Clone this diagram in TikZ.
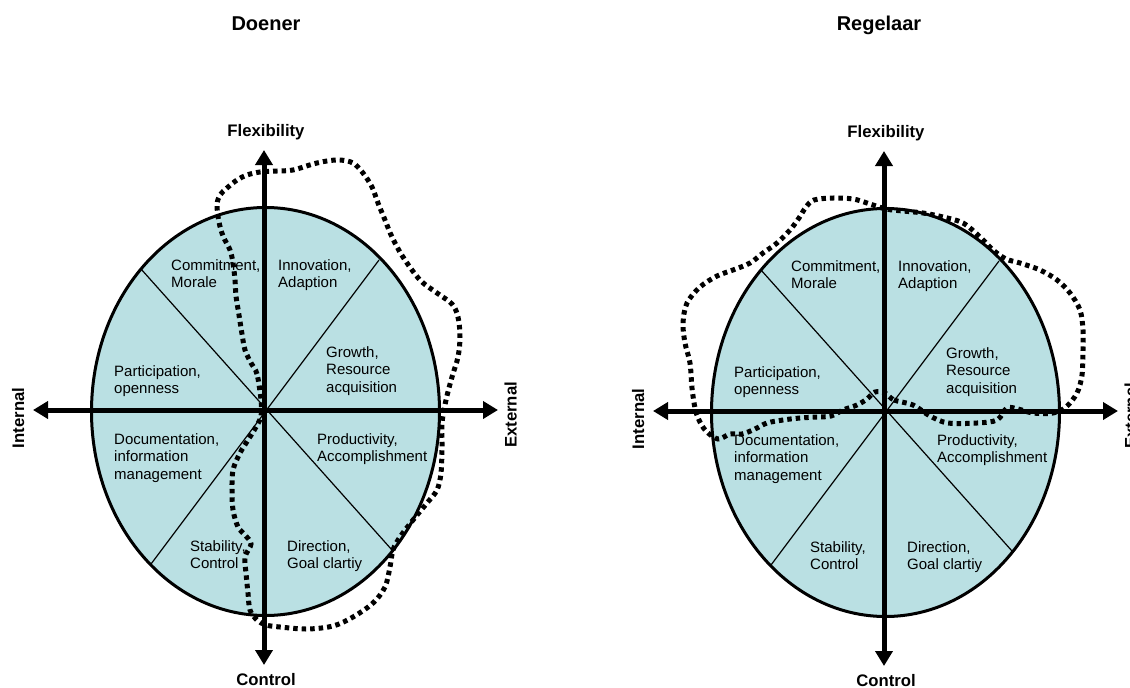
\documentclass[tikz,border=0pt]{standalone}
\usepackage{fontspec}
\setmainfont{Liberation Sans}
\usetikzlibrary{arrows.meta}
\definecolor{quadfill}{RGB}{186,224,227}
\tikzset{
  axisline/.style={line width=5pt,
    {Triangle[length=15pt,width=17pt]}-{Triangle[length=15pt,width=17pt]}},
  rim/.style={line width=3pt, fill=quadfill},
  spoke/.style={line width=1.2pt},
  profile/.style={line width=5pt, dash pattern=on 4.5pt off 4pt},
  area/.style={font=\fontsize{15}{17.5}\selectfont, align=left,
    anchor=north west, inner sep=0pt},
  axislabel/.style={font=\bfseries\fontsize{16.7}{20}\selectfont,
    inner sep=0pt, anchor=base},
  heading/.style={font=\bfseries\fontsize{20}{24}\selectfont,
    inner sep=0pt, anchor=base},
}
% one competing-values frame: #1 name prefix, #2 centre of the axes
\newcommand\cvframe[2]{%
  \begin{scope}[shift={#2}]
    \coordinate (#1-o) at (0,0);
    \coordinate (#1-n) at (0,-260);
    \coordinate (#1-s) at (0,255);
    \coordinate (#1-w) at (-231,0);
    \coordinate (#1-e) at (234,0);
    \coordinate (#1-ul) at (-123,-141);
    \coordinate (#1-ur) at (115,-150);
    \coordinate (#1-ll) at (-113,154);
    \coordinate (#1-lr) at (128,140);
    \draw[rim] (1.5,1.5) ellipse [x radius=174pt, y radius=204pt];
    \draw[spoke] (#1-ul) -- (#1-lr);
    \draw[spoke] (#1-ur) -- (#1-ll);
    \node[area] (#1-cm) at (-93,-151) {Commitment,\\Morale};
    \node[area] (#1-ia) at (14,-151) {Innovation,\\Adaption};
    \node[area] (#1-gr) at (62,-64) {Growth,\\Resource\\acquisition};
    \node[area] (#1-po) at (-150,-45) {Participation,\\openness};
    \node[area] (#1-di) at (-150,23) {Documentation,\\information\\management};
    \node[area] (#1-pa) at (53,23) {Productivity,\\Accomplishment};
    \node[area] (#1-sc) at (-74,130) {Stability,\\Control};
    \node[area] (#1-dg) at (23,130) {Direction,\\Goal clartiy};
    \draw[axisline] (#1-s) -- (#1-n);
    \draw[axisline] (#1-w) -- (#1-e);
    \node[axislabel] (#1-flex) at (2,-274) {Flexibility};
    \node[axislabel] (#1-ctrl) at (2,275) {Control};
    \node[axislabel, rotate=90] (#1-int) at (-240,8) {Internal};
    \node[axislabel, rotate=90] (#1-ext) at (252.7,5) {External};
  \end{scope}}
\begin{document}
\begin{tikzpicture}[x=1pt, y=-1pt]
  \useasboundingbox (0,0) rectangle (1130,688);
  \node[heading] (doener) at (266,30.7) {Doener};
  \node[heading] (regelaar) at (879,30.7) {Regelaar};

  \cvframe{A}{(264,410)}
  \cvframe{B}{(884,411)}

  % profile of the Doener
  \draw[profile] plot[smooth cycle, tension=0.55] coordinates {
    (261,400) (257,374) (251,363) (245,350) (242,334) (239,315) (236,296)
    (235,280) (233,263) (230,250) (223,236) (219,222) (217,205) (220,195)
    (227,188) (237,180) (247,175) (260,172) (277,171) (293,170) (313,164)
    (327,161) (340,160) (353,163) (363,173) (372,187) (378,203) (385,220)
    (392,237) (403,257) (420,280) (437,293) (452,304) (458,317) (460,337)
    (458,357) (452,377) (446,400) (442,423) (442,447) (441,473) (437,490)
    (427,503) (413,520) (400,537) (393,550) (390,567) (385,587) (373,603)
    (353,617) (333,626) (307,629) (280,627) (266,625) (257,620) (250,610)
    (248,593) (246,573) (245,557) (251,544) (245,535) (238,527) (233,510)
    (232,490) (233,470) (240,453) (248,440) (256,427) (261,416)};

  % profile of the Regelaar
  \draw[profile] plot[smooth cycle, tension=0.55] coordinates {
    (885,393) (894,400) (913,405) (930,416) (948,423) (977,423) (997,420)
    (1007,408) (1018,409) (1033,413) (1053,413) (1066,407) (1077,393)
    (1082,375) (1083,350) (1083,330) (1080,310) (1070,293) (1057,280)
    (1040,270) (1020,263) (1006,259) (993,250) (980,237) (963,223) (943,217)
    (923,213) (903,211) (886,209) (867,203) (853,199) (833,198) (814,200)
    (806,207) (799,218) (790,230) (777,243) (763,253) (750,263) (733,270)
    (717,276) (700,287) (687,303) (683,323) (685,343) (690,363) (692,388)
    (695,408) (699,420) (706,431) (718,439) (730,434) (742,434) (755,429)
    (767,423) (783,420) (800,418) (817,417) (831,416) (843,410) (857,405)
    (867,399) (875,392)};
\end{tikzpicture}
\end{document}
